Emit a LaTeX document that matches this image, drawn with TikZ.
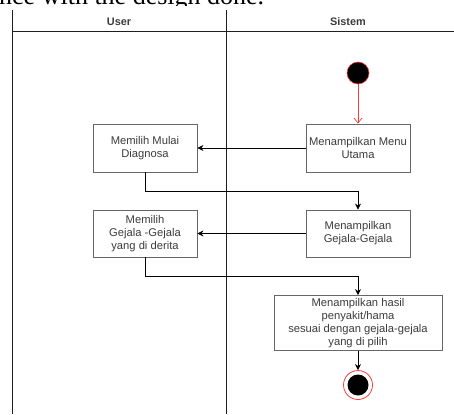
\documentclass[tikz,border=0pt]{standalone}
\usepackage{fontspec}
\setmainfont{Liberation Sans}
\newfontfamily\docserif{Liberation Serif}
\usepackage{xcolor}
\usepackage{tikz}
\usetikzlibrary{arrows.meta, positioning}
\definecolor{lane_line}{RGB}{30, 30, 30}
\definecolor{box_line}{RGB}{102, 102, 102}
\definecolor{box_text}{RGB}{60, 60, 60}
\definecolor{flow_red}{RGB}{255, 60, 60}

\begin{document}
\begin{tikzpicture}[x=1pt, y=-1pt,
    lane/.style={draw=lane_line, line width=0.8pt},
    lanetitle/.style={font=\fontsize{10.9}{12}\selectfont\bfseries, text=box_text, inner sep=0pt},
    activity/.style={draw=box_line, line width=0.8pt, fill=white, minimum width=104pt, minimum height=48pt,
      align=center, inner sep=1pt, font=\fontsize{11.2}{13}\selectfont, text=box_text},
    startdot/.style={circle, fill=black, draw=flow_red, line width=0.6pt, minimum size=22pt, inner sep=0pt},
    endring/.style={circle, fill=white, draw=flow_red, line width=0.8pt, minimum size=29pt, inner sep=0pt},
    flow/.style={-{Stealth[length=6pt, width=6pt]}, line width=0.7pt},
    flowred/.style={-{Straight Barb[length=5pt, width=8pt]}, draw=flow_red, line width=0.7pt}]
  \useasboundingbox (0,0) rectangle (454,414);

  % page text cut at the top
  \begin{scope}
    \clip (0,0) rectangle (454,5.5);
    \node[anchor=base west, inner sep=0pt, font=\docserif\fontsize{26}{28}\selectfont] (pagetext) at (-1,4.5) {nce with the design done.};
  \end{scope}

  % swimlanes
  \draw[lane] (12,31.5) -- (454,31.5);
  \draw[lane] (12,10) -- (12,414);
  \draw[lane] (226,10) -- (226,414);
  \node[lanetitle] (user) at (119,22) {User};
  \node[lanetitle] (sistem) at (348,22) {Sistem};

  % activities
  \node[startdot] (start) at (358,73) {};
  \node[activity] (menu) at (358,148) {Menampilkan Menu\\Utama};
  \node[activity] (mulai) at (145,148) {Memilih Mulai\\Diagnosa};
  \node[activity, minimum height=47pt] (gejala) at (358,233.5) {Menampilkan\\Gejala-Gejala};
  \node[activity, minimum height=47pt] (pilih) at (145,233.5) {Memilih\\Gejala -Gejala\\yang di derita};
  \node[activity, minimum width=168pt, minimum height=55pt] (hasil) at (358,323) {Menampilkan hasil\\penyakit/hama\\sesuai dengan gejala-gejala\\yang di pilih};
  \node[endring] (end) at (358,385) {};
  \node[startdot, draw=none, minimum size=21pt] (enddot) at (end) {};

  % flows
  \draw[flowred] (start) -- (menu);
  \draw[flow] (menu) -- (mulai);
  \draw[flow] (mulai.south) -- ++(0,19) -| (gejala.north);
  \draw[flow] (gejala) -- (pilih);
  \draw[flow] (pilih.south) -- ++(0,19) -| (hasil.north);
  \draw[flow] (hasil) -- (end);
\end{tikzpicture}
\end{document}
